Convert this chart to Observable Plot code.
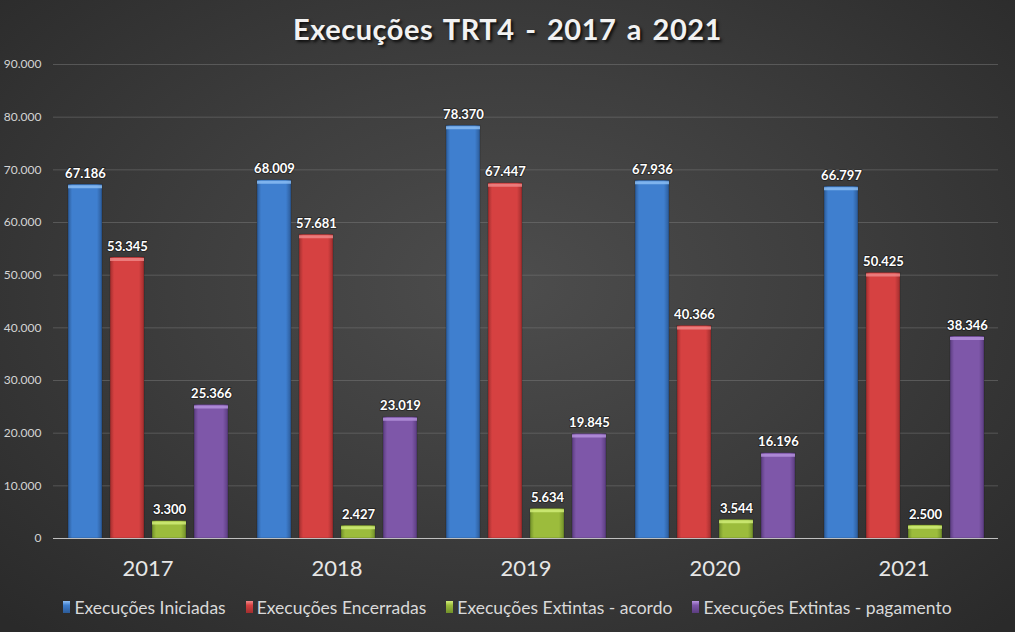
<!DOCTYPE html>
<html>
<head>
<meta charset="utf-8">
<script src="https://cdn.jsdelivr.net/npm/d3@7"></script>
<script src="https://cdn.jsdelivr.net/npm/@observablehq/plot@0.6"></script>
<style>
  html, body { margin: 0; padding: 0; }
  body { width: 1015px; height: 632px; overflow: hidden; }
  #wrap {
    width: 1015px; height: 632px; position: relative;
    background: radial-gradient(ellipse 70% 75% at 50% 45%, #4d4d4d 0%, #3e3e3e 45%, #2a2a2a 100%);
    font-family: Lato, "Open Sans", sans-serif;
  }
  #title {
    height: 50px; line-height: 58px; text-align: center;
    color: #f2f2f2; font-weight: bold; font-size: 29px; letter-spacing: 0.5px; word-spacing: 3px;
    text-shadow: 2px 2px 3px rgba(0,0,0,0.8);
  }
  #chart svg { display: block; background: transparent; }
  #legend {
    position: absolute; left: 0; top: 594px; width: 1015px; height: 26px;
    display: flex; justify-content: center; align-items: center; gap: 20px;
    color: #d9d9d9; font-size: 17.5px;
  }
  .item { display: flex; align-items: center; gap: 4px; }
  .sw { width: 7px; height: 12px; display: inline-block; }
</style>
</head>
<body>
<svg width="0" height="0" style="position:absolute">
  <defs id="defs"></defs>
</svg>
<div id="wrap">
  <div id="title">Execuções TRT4 - 2017 a 2021</div>
  <div id="chart"></div>
  <div id="legend"></div>
</div>
<script>
const years = ["2017", "2018", "2019", "2020", "2021"];
const seriesNames = ["Execuções Iniciadas", "Execuções Encerradas", "Execuções Extintas - acordo", "Execuções Extintas - pagamento"];
const iniciadas = [67186, 68009, 78370, 67936, 66797];
const encerradas = [53345, 57681, 67447, 40366, 50425];
const acordo = [3300, 2427, 5634, 3544, 2500];
const pagamento = [25366, 23019, 19845, 16196, 38346];
const yTicks = [0, 10000, 20000, 30000, 40000, 50000, 60000, 70000, 80000, 90000];

const baseColors = ["#3f7fcf", "#d64141", "#9cbc3c", "#7e57a9"];
const edgeColors = ["#2c5b98", "#a12e2e", "#71902a", "#5b3d80"];
const topColors  = ["#8fc0f5", "#f08a8a", "#d3ef7a", "#b895e0"];

// gradients
const defs = d3.select("#defs");
baseColors.forEach((c, i) => {
  const g = defs.append("linearGradient").attr("id", "g" + i)
    .attr("x1", "0").attr("x2", "1").attr("y1", "0").attr("y2", "0");
  g.append("stop").attr("offset", "0%").attr("stop-color", edgeColors[i]);
  g.append("stop").attr("offset", "12%").attr("stop-color", c);
  g.append("stop").attr("offset", "85%").attr("stop-color", c);
  g.append("stop").attr("offset", "100%").attr("stop-color", edgeColors[i]);
});
const fills = baseColors.map((c, i) => `url(#g${i})`);

const allValues = [iniciadas, encerradas, acordo, pagamento];
const data = [];
years.forEach((y, yi) => {
  seriesNames.forEach((s, si) => {
    data.push({ year: y, series: s, value: allValues[si][yi] });
  });
});

const locale = d3.formatLocale({ decimal: ",", thousands: ".", grouping: [3], currency: ["R$", ""] });
const fmt = locale.format(",d");

const plot = Plot.plot({
  width: 1015,
  height: 540,
  marginTop: 14,
  marginBottom: 52,
  marginLeft: 52,
  marginRight: 17,
  style: { background: "transparent", fontFamily: "Lato, 'Open Sans', sans-serif" },
  fx: { domain: years, padding: 0, label: null },
  x: { domain: seriesNames, axis: null, paddingInner: 0.2, paddingOuter: 0.33 },
  y: { domain: [0, 90000], axis: null },
  color: { domain: seriesNames, range: fills },
  marks: [
    Plot.gridY(yTicks, { stroke: "#7a7a7a", strokeOpacity: 0.5, strokeWidth: 1 }),
    Plot.axisY(yTicks, { tickFormat: fmt, tickSize: 0, tickPadding: 12, fill: "#d4d4d4", fontSize: 12, label: null }),
    Plot.axisFx({ anchor: "bottom", fontSize: 22, fill: "#e6e6e6", tickSize: 0, tickPadding: 22, label: null }),
    Plot.barY(data, { fx: "year", x: "series", y: "value", fill: "series", stroke: "#00000040", strokeWidth: 0.8 }),
    Plot.tickY(data, { fx: "year", x: "series", y: "value", stroke: d => topColors[seriesNames.indexOf(d.series)], strokeWidth: 3, strokeOpacity: 0.8, dy: 2 }),
    Plot.ruleY([0], { stroke: "#bfbfbf", strokeWidth: 1.2 }),
    Plot.text(data, { fx: "year", x: "series", y: "value", text: d => fmt(d.value), dy: -11, fill: "#ffffff", fontWeight: "bold", fontSize: 13, stroke: "#00000060", strokeWidth: 2, paintOrder: "stroke" })
  ]
});
document.getElementById("chart").appendChild(plot);

// legend
const leg = document.getElementById("legend");
seriesNames.forEach((s, i) => {
  const item = document.createElement("div");
  item.className = "item";
  const sw = document.createElement("span");
  sw.className = "sw";
  sw.style.background = `linear-gradient(to bottom, ${topColors[i]} 0%, ${baseColors[i]} 35%, ${edgeColors[i]} 100%)`;
  const t = document.createElement("span");
  t.textContent = s;
  item.appendChild(sw); item.appendChild(t);
  leg.appendChild(item);
});
</script>
</body>
</html>
